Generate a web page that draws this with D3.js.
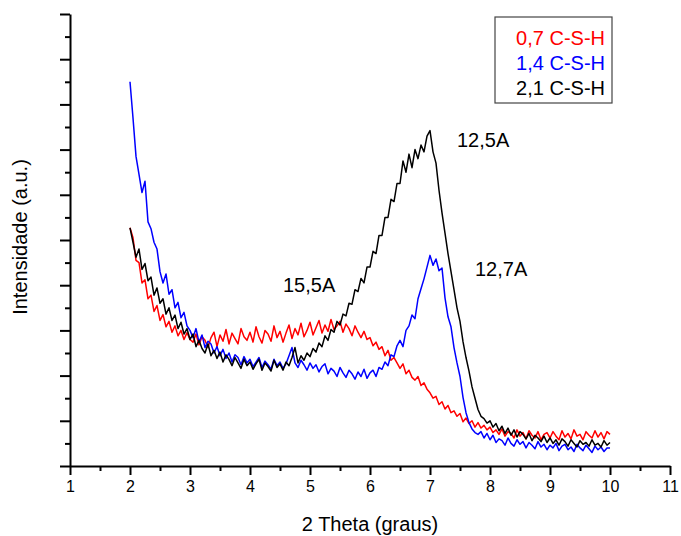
<!DOCTYPE html>
<html>
<head>
<meta charset="utf-8">
<script src="https://cdn.jsdelivr.net/npm/d3@7"></script>
<style>
	body { margin: 0; background: #fff; }
	text { font-family: "Liberation Sans", Arial, sans-serif; }
</style>
</head>
<body>
<div id="chart"></div>
<script>
// 2 theta sampling: 2.00 .. 10.00, step 0.05
var thetaStart = 2.0;
var thetaStep = 0.05;

// 0,7 C-S-H
var red07 = [
	5.27,5.05,4.55,4.50,4.05,4.12,3.70,3.78,3.42,3.55,3.22,3.35,3.08,3.20,2.96,3.10,2.88,3.00,2.80,2.95,
	2.80,2.74,2.92,2.68,2.86,2.78,2.62,2.84,2.96,2.64,2.90,2.76,3.02,2.70,2.94,2.82,2.70,3.04,2.86,2.78,
	2.96,2.74,3.08,2.86,2.72,3.00,2.92,2.76,3.10,2.84,2.98,2.74,2.94,3.12,2.82,3.04,2.90,3.16,2.86,3.00,
	3.18,2.90,3.06,3.22,2.94,3.12,2.98,3.24,3.02,3.10,3.20,2.96,3.14,3.04,2.88,3.10,2.96,2.84,2.98,2.80,
	2.84,2.66,2.74,2.58,2.64,2.44,2.56,2.34,2.40,2.28,2.16,2.26,2.04,2.12,1.96,1.90,1.98,1.78,1.84,1.70,
	1.62,1.50,1.54,1.36,1.42,1.26,1.34,1.18,1.22,1.10,1.16,0.98,1.06,0.94,1.00,0.86,0.96,0.84,0.90,0.80,
	0.86,0.74,0.80,0.70,0.82,0.66,0.76,0.72,0.62,0.80,0.66,0.74,0.60,0.78,0.68,0.62,0.76,0.58,0.70,0.74,
	0.62,0.76,0.66,0.58,0.78,0.64,0.72,0.60,0.80,0.66,0.70,0.58,0.76,0.68,0.62,0.78,0.64,0.74,0.60,0.76,
	0.70
];

// 1,4 C-S-H
var blue14 = [
	8.50,7.70,6.85,6.45,6.05,6.30,5.40,5.25,4.95,4.80,4.30,4.05,4.25,3.80,3.90,3.50,3.62,3.28,3.40,3.10,
	3.00,2.84,3.04,2.74,2.90,2.62,2.76,2.70,2.50,2.64,2.44,2.58,2.38,2.50,2.30,2.46,2.40,2.24,2.42,2.28,
	2.36,2.20,2.30,2.40,2.18,2.32,2.24,2.14,2.36,2.22,2.30,2.16,2.26,2.44,2.62,2.28,2.18,2.34,2.24,2.12,
	2.28,2.16,2.24,2.08,2.20,2.26,2.04,2.16,2.10,1.98,2.18,2.06,1.96,2.12,2.04,1.92,2.08,1.98,2.14,1.94,
	2.06,2.12,1.98,2.18,2.14,2.30,2.22,2.46,2.42,2.66,2.78,2.64,3.00,3.10,3.34,3.26,3.70,3.92,4.14,4.40,
	4.66,4.44,4.58,4.32,4.38,3.72,3.30,3.08,2.62,2.28,1.98,1.52,1.18,0.96,0.82,0.74,0.70,0.76,0.62,0.72,
	0.58,0.68,0.52,0.60,0.56,0.46,0.62,0.50,0.44,0.58,0.48,0.54,0.40,0.52,0.46,0.38,0.54,0.42,0.48,0.36,
	0.46,0.40,0.50,0.34,0.44,0.48,0.36,0.42,0.32,0.48,0.40,0.34,0.46,0.38,0.30,0.44,0.36,0.42,0.32,0.40,
	0.40
];

// 2,1 C-S-H
var black21 = [
	5.27,4.95,4.62,4.80,4.35,4.48,4.10,4.18,3.78,3.94,3.60,3.70,3.36,3.50,3.22,3.34,3.04,3.18,2.92,3.04,
	2.80,2.92,2.64,2.78,2.60,2.50,2.70,2.44,2.56,2.38,2.52,2.30,2.46,2.36,2.22,2.40,2.28,2.16,2.36,2.22,
	2.30,2.14,2.26,2.36,2.12,2.28,2.20,2.10,2.34,2.18,2.26,2.12,2.30,2.22,2.40,2.62,2.28,2.44,2.34,2.50,
	2.42,2.60,2.52,2.72,2.64,2.88,2.78,3.02,2.96,3.20,3.12,3.36,3.32,3.60,3.58,3.90,3.86,4.15,4.05,4.40,
	4.40,4.75,4.70,5.10,5.10,5.50,5.50,5.90,5.85,6.25,6.25,6.75,6.50,6.90,6.60,7.00,6.80,7.10,6.95,7.30,
	7.42,6.95,6.70,6.10,5.60,5.15,4.70,4.30,3.90,3.50,3.20,2.75,2.40,2.10,1.75,1.50,1.25,1.10,1.05,0.95,
	1.00,0.86,0.94,0.78,0.88,0.72,0.84,0.68,0.80,0.64,0.76,0.70,0.60,0.72,0.56,0.68,0.62,0.54,0.66,0.52,
	0.62,0.50,0.58,0.46,0.60,0.54,0.44,0.58,0.50,0.42,0.56,0.48,0.52,0.44,0.58,0.46,0.50,0.42,0.56,0.46,
	0.52
];

var seriesNames = ["0,7 C-S-H", "1,4 C-S-H", "2,1 C-S-H"];
var seriesColors = ["#ff0000", "#0000ff", "#000000"];

var xTicks = [1, 2, 3, 4, 5, 6, 7, 8, 9, 10, 11];

var peakLabels = [
	{ text: "12,5A", x: 7.45, y: 7.05 },
	{ text: "12,7A", x: 7.75, y: 4.2 },
	{ text: "15,5A", x: 4.55, y: 3.85 }
];

var drawChart = function(selector) {
	var width = 681, height = 536;
	var left = 70, right = 670, top = 14, bottom = 466;

	var svg = d3.select(selector).append("svg")
		.attr("width", width)
		.attr("height", height);

	var x = d3.scaleLinear().domain([1, 11]).range([left, right]);
	var y = d3.scaleLinear().domain([0, 10]).range([bottom, top]);

	var toPoints = function(vals) {
		return vals.map(function(v, i) {
			return { t: thetaStart + i * thetaStep, v: v };
		});
	};

	var line = d3.line()
		.x(function(d) { return x(d.t); })
		.y(function(d) { return y(d.v); });

	[red07, blue14, black21].forEach(function(vals, i) {
		svg.append("path")
			.attr("d", line(toPoints(vals)))
			.attr("fill", "none")
			.attr("stroke", seriesColors[i])
			.attr("stroke-width", 1.5)
			.attr("stroke-linejoin", "round");
	});

	// x axis: major + half-unit minor ticks
	var xMinor = d3.range(1.5, 11, 1);
	svg.append("g")
		.attr("transform", "translate(0," + bottom + ")")
		.call(d3.axisBottom(x).tickValues(xMinor).tickSize(5).tickFormat(""))
		.call(function(g) { g.select(".domain").remove(); });
	var xAxis = svg.append("g")
		.attr("transform", "translate(0," + bottom + ")")
		.call(d3.axisBottom(x).tickValues(xTicks).tickSize(9).tickPadding(6).tickSizeOuter(0).tickFormat(d3.format("d")));
	xAxis.selectAll("text").attr("font-size", "16px").attr("font-family", "Liberation Sans, Arial, sans-serif").attr("fill", "#000");

	// y axis: no labels
	var yMinor = d3.range(0.5, 10, 1);
	svg.append("g")
		.attr("transform", "translate(" + left + ",0)")
		.call(d3.axisLeft(y).tickValues(yMinor).tickSize(5).tickFormat(""))
		.call(function(g) { g.select(".domain").remove(); });
	svg.append("g")
		.attr("transform", "translate(" + left + ",0)")
		.call(d3.axisLeft(y).tickValues(d3.range(0, 11, 1)).tickSize(10).tickSizeOuter(0).tickFormat(""));

	svg.selectAll(".domain, .tick line").attr("stroke", "#000").attr("stroke-width", 2);

	// axis titles
	svg.append("text")
		.attr("x", (left + right) / 2)
		.attr("y", 531)
		.attr("text-anchor", "middle")
		.attr("font-size", "20px")
		.text("2 Theta (graus)");
	svg.append("text")
		.attr("transform", "translate(27," + 237 + ") rotate(-90)")
		.attr("text-anchor", "middle")
		.attr("font-size", "20px")
		.text("Intensidade (a.u.)");

	// legend
	var lg = svg.append("g").attr("transform", "translate(495,17)");
	lg.append("rect")
		.attr("width", 117)
		.attr("height", 86)
		.attr("fill", "#fff")
		.attr("stroke", "#444")
		.attr("stroke-width", 1.2);
	seriesNames.forEach(function(name, i) {
		lg.append("text")
			.attr("x", 110)
			.attr("y", 28 + i * 25)
			.attr("text-anchor", "end")
			.attr("font-size", "20px")
			.attr("fill", seriesColors[i])
			.text(name);
	});

	// peak annotations
	peakLabels.forEach(function(p) {
		svg.append("text")
			.attr("x", x(p.x))
			.attr("y", y(p.y))
			.attr("font-size", "20px")
			.text(p.text);
	});
};

drawChart("#chart");
</script>
</body>
</html>
